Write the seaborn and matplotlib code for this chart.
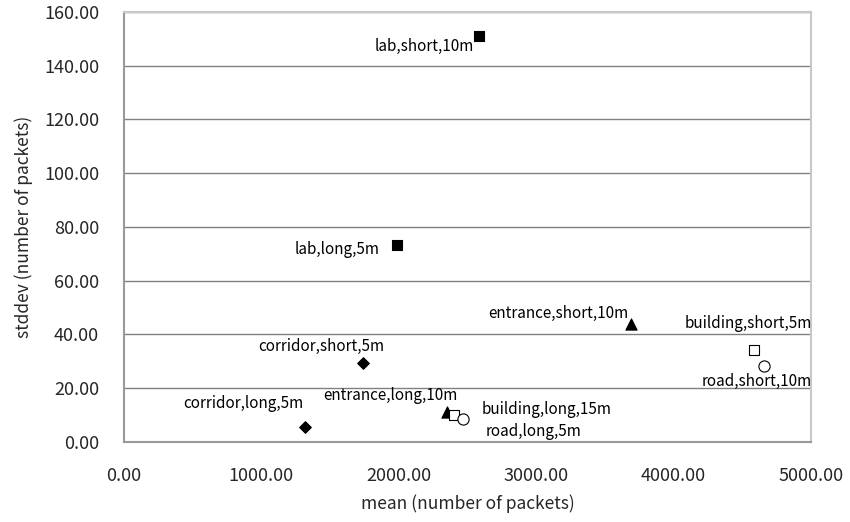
import matplotlib
matplotlib.use("Agg")
import matplotlib.pyplot as plt
import seaborn as sns
import pandas as pd

labels = ["lab,short,10m", "lab,long,5m", "entrance,short,10m", "building,short,5m",
          "road,short,10m", "corridor,short,5m", "corridor,long,5m", "entrance,long,10m",
          "building,long,15m", "road,long,5m"]
place = ["lab", "lab", "entrance", "building", "road", "corridor", "corridor", "entrance",
         "building", "road"]
mean = [2587, 1985, 3690, 4585, 4660, 1736, 1317, 2348, 2402, 2470]
stddev = [151.1, 73.3, 43.9, 34.2, 28.4, 29.3, 5.5, 11.3, 10.0, 8.4]

xticks = [0, 1000, 2000, 3000, 4000, 5000]
yticks = [0, 20, 40, 60, 80, 100, 120, 140, 160]

df = pd.DataFrame({"label": labels, "place": place, "mean": mean, "stddev": stddev})

sns.set_style("white")
plt.rcParams['font.family'] = ['Noto Sans CJK JP', 'DejaVu Sans']

fig = plt.figure(figsize=(8.5, 5.22), dpi=100)
ax = fig.add_axes([0.1459, 0.1533, 0.8082, 0.8237])

styles = {
    "lab": dict(marker="s", s=60, color="black", edgecolor="black"),
    "entrance": dict(marker="^", s=65, color="black", edgecolor="black"),
    "corridor": dict(marker="D", s=35, color="black", edgecolor="black"),
    "building": dict(marker="s", s=60, color="white", edgecolor="black"),
    "road": dict(marker="o", s=65, color="white", edgecolor="black"),
}
for p, st in styles.items():
    sns.scatterplot(data=df[df["place"] == p], x="mean", y="stddev", ax=ax,
                    linewidth=0.8, zorder=3, legend=False, **st)

# label offsets in pixels (dx, dy, ha)
offsets = {
    "lab,short,10m": (-5, -11, "right"),
    "lab,long,5m": (-17, -5, "right"),
    "entrance,short,10m": (-2, 11, "right"),
    "building,short,5m": (58, 27, "right"),
    "road,short,10m": (48, -16, "right"),
    "corridor,short,5m": (-41, 17, "center"),
    "corridor,long,5m": (-1, 24, "right"),
    "entrance,long,10m": (11, 16, "right"),
    "building,long,15m": (28, 6, "left"),
    "road,long,5m": (22, -12, "left"),
}
for lab, x, y in zip(labels, mean, stddev):
    dx, dy, ha = offsets[lab]
    ax.annotate(lab, (x, y), xytext=(dx, dy), textcoords="offset pixels",
                ha=ha, va="center", fontsize=11, color="black")

ax.set_xlim(0, 5000)
ax.set_ylim(0, 160)
ax.set_xticks(xticks)
ax.set_yticks(yticks)
ax.set_xticklabels([f"{v:.2f}" for v in xticks])
ax.set_yticklabels([f"{v:.2f}" for v in yticks])
ax.yaxis.grid(True, color="#808080", linewidth=1.0)
ax.set_axisbelow(True)
ax.tick_params(axis="both", direction="in", length=4, color="#808080",
               labelsize=13, pad=18)
for side in ["left", "bottom"]:
    ax.spines[side].set_color("#999999")
    ax.spines[side].set_linewidth(1.5)
for side in ["top", "right"]:
    ax.spines[side].set_color("#c8c8c8")
    ax.spines[side].set_linewidth(1.5)

ax.set_xlabel("mean (number of packets)", fontsize=12.5, labelpad=7)
ax.set_ylabel("stddev (number of packets)", fontsize=12.5, labelpad=8)

fig.savefig("out.png", dpi=100)
